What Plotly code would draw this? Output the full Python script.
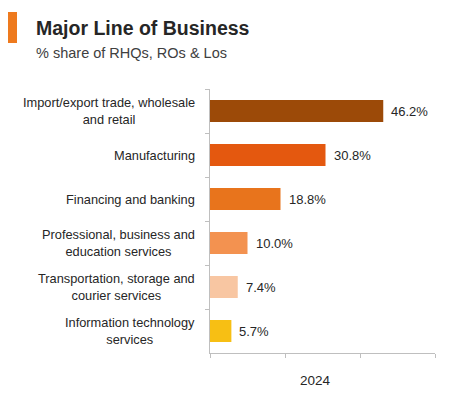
import plotly.graph_objects as go

categories = [
    "Import/export trade, wholesale<br>and retail",
    "Manufacturing",
    "Financing and banking",
    "Professional, business and<br>education services",
    "Transportation, storage and<br>courier services",
    "Information technology<br>services",
]
values = [46.2, 30.8, 18.8, 10.0, 7.4, 5.7]
labels = ["46.2%", "30.8%", "18.8%", "10.0%", "7.4%", "5.7%"]
colors = ["#9C4A08", "#E4580F", "#E8741C", "#F39250", "#F8C6A2", "#F7BF14"]
year_label = "2024"

FONT = "Liberation Sans, Arial, sans-serif"

W, H = 451, 393
L, R, T, B = 210, 16, 89, 40
pw, ph = W - L - R, H - T - B

def px(x):
    return (x - L) / pw

def py(y):
    return (H - B - y) / ph

fig = go.Figure()
fig.add_trace(go.Bar(
    x=values, y=categories, orientation="h",
    marker=dict(color=colors, line=dict(width=0)),
    width=0.5,
))

annotations = [
    dict(text="<b>Major Line of Business</b>", xref="paper", yref="paper",
         x=px(34), y=py(28), xanchor="left", yanchor="middle", showarrow=False,
         font=dict(family=FONT, size=19.5, color="#262626")),
    dict(text="% share of RHQs, ROs & Los", xref="paper", yref="paper",
         x=px(34), y=py(53), xanchor="left", yanchor="middle", showarrow=False,
         font=dict(family=FONT, size=14.5, color="#404040")),
    dict(text=year_label, xref="paper", yref="paper",
         x=px(315), y=py(380), xanchor="center", yanchor="middle", showarrow=False,
         font=dict(family=FONT, size=13.5, color="#262626")),
]
for cat in categories:
    annotations.append(dict(
        text=cat, xref="paper", yref="y", x=px(197), y=cat,
        xanchor="right", yanchor="middle", align="center", showarrow=False,
        font=dict(family=FONT, size=12.8, color="#262626"),
    ))
for cat, v, lab in zip(categories, values, labels):
    annotations.append(dict(
        text=lab, xref="x", yref="y", x=v, y=cat, xshift=6,
        xanchor="left", yanchor="middle", showarrow=False,
        font=dict(family=FONT, size=13, color="#262626"),
    ))

fig.update_layout(
    width=W, height=H,
    margin=dict(l=L, r=R, t=T, b=B),
    paper_bgcolor="white", plot_bgcolor="white",
    showlegend=False,
    font=dict(family=FONT, color="#262626"),
    xaxis=dict(
        range=[0, 60], dtick=20, showgrid=False, zeroline=False,
        showline=True, linecolor="#BFBFBF", linewidth=1,
        ticks="outside", ticklen=4, tickcolor="#BFBFBF",
        showticklabels=False,
    ),
    yaxis=dict(
        autorange="reversed", showgrid=False, zeroline=False,
        showline=True, linecolor="#BFBFBF", linewidth=1,
        ticks="outside", ticklen=4, tickcolor="#BFBFBF", tickson="boundaries",
        showticklabels=False,
    ),
    shapes=[dict(
        type="rect", xref="paper", yref="paper",
        x0=px(8), x1=px(17), y0=py(43), y1=py(12),
        fillcolor="#EE7A1E", line=dict(width=0),
    )],
    annotations=annotations,
)

fig.write_html("out.html")
